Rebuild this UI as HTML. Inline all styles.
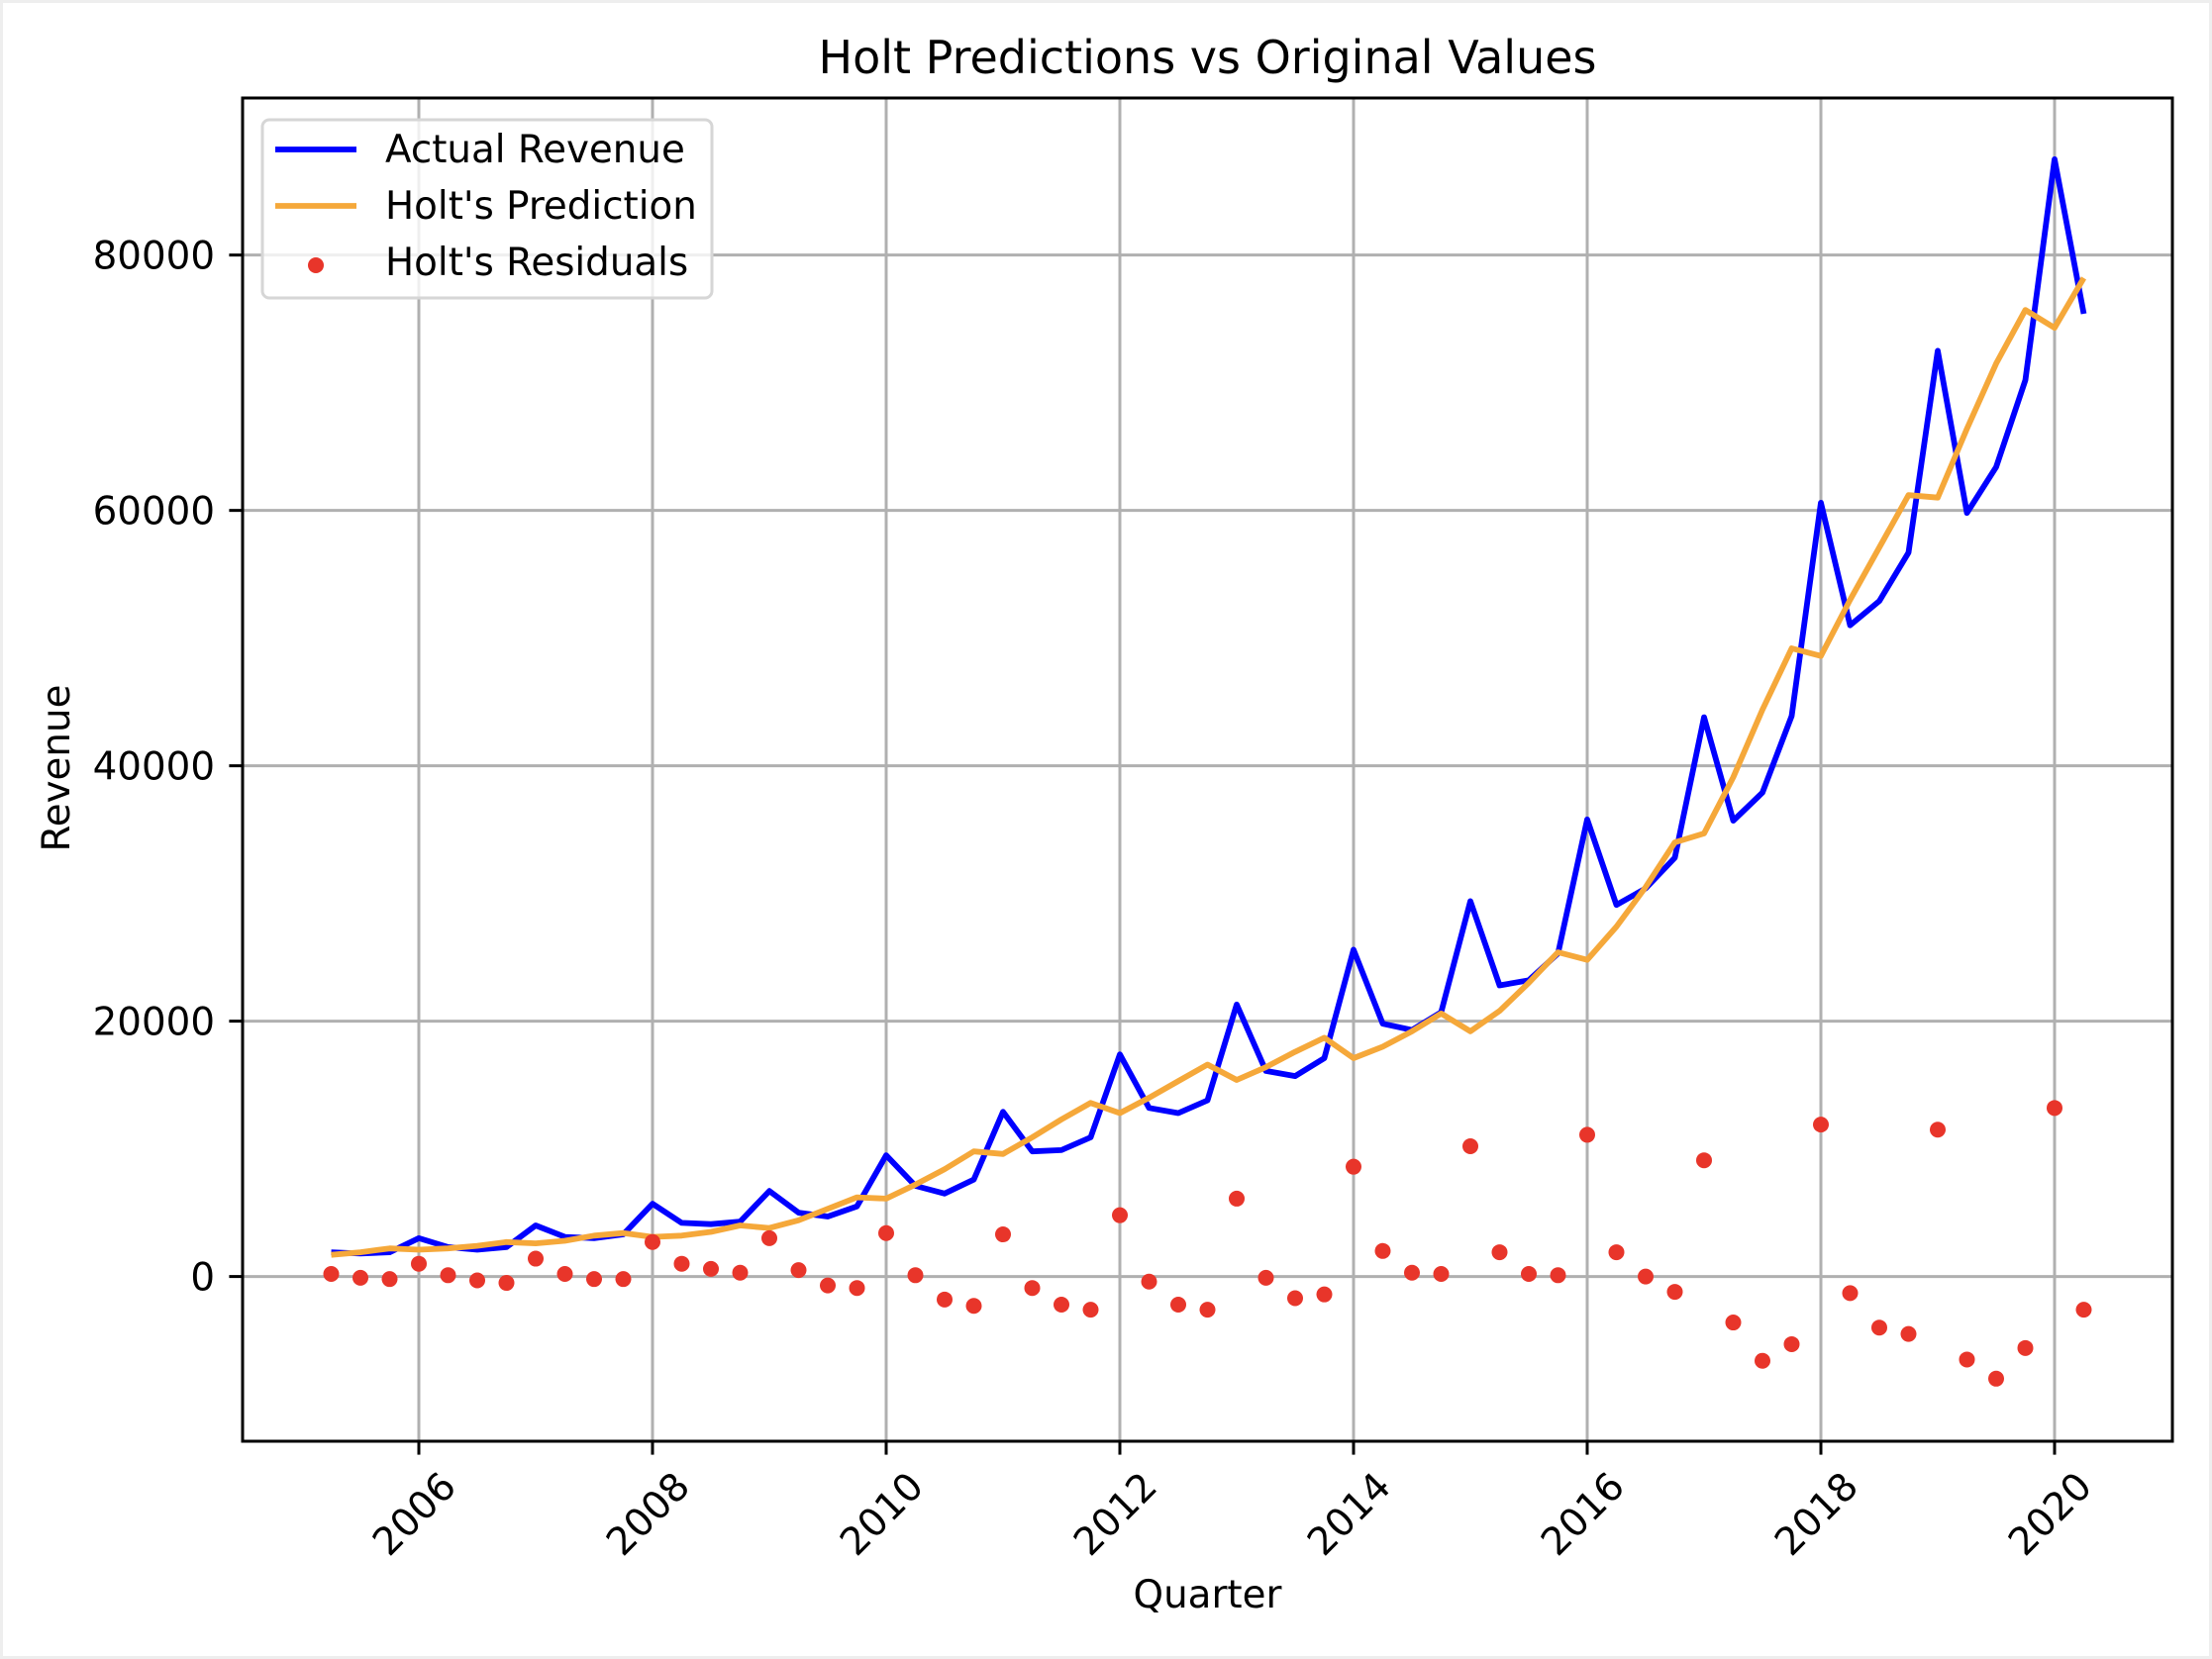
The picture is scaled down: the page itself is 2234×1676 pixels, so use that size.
<!DOCTYPE html>
<html><head><meta charset="utf-8"><style>
html,body{margin:0;padding:0;background:#fff}
svg{display:block}
text{font-family:"DejaVu Sans","Liberation Sans",sans-serif;fill:#000}
</style></head><body>
<svg id="chart" width="2234" height="1676" viewBox="0 0 2234 1676" xmlns="http://www.w3.org/2000/svg">
<rect x="0" y="0" width="2234" height="1676" fill="#fff" stroke="#eeeeee" stroke-width="6"/>
<g id="grid"></g>
<g id="series"></g>
<rect x="245" y="99" width="1949" height="1357" fill="none" stroke="#000" stroke-width="3"/>
<g id="ticks"></g>
<text x="1219.5" y="74" font-size="46" text-anchor="middle">Holt Predictions vs Original Values</text>
<text x="1219.5" y="1624" font-size="38.8" text-anchor="middle">Quarter</text>
<text x="0" y="0" font-size="38.8" text-anchor="middle" transform="translate(70,776) rotate(-90)">Revenue</text>
<g>
<rect x="265" y="121" width="454" height="180" rx="7" fill="#fff" fill-opacity="0.8" stroke="#d6d6d6" stroke-width="3"/>
<line x1="278" y1="151" x2="360" y2="151" stroke="#0000ff" stroke-width="5.8"/>
<text x="389" y="164" font-size="38.8">Actual Revenue</text>
<line x1="278" y1="208" x2="360" y2="208" stroke="#f5a83a" stroke-width="5.8"/>
<text x="389" y="221" font-size="38.8">Holt's Prediction</text>
<circle cx="319" cy="268" r="8" fill="#e8352a"/>
<text x="389" y="278" font-size="38.8">Holt's Residuals</text>
</g>
</svg>
<script>
const startYear = 2005.25;
const actual = [1900,1800,1900,3000,2300,2100,2300,4000,3100,3000,3300,5700,4200,4100,4300,6700,5000,4700,5500,9500,7100,6500,7600,12900,9800,9900,10900,17400,13200,12800,13800,21300,16100,15700,17100,25600,19800,19300,20700,29400,22800,23200,25300,35800,29100,30400,32800,43800,35700,37900,43900,60600,51000,52900,56700,72500,59800,63400,70200,87500,75400];
const prediction = [1700,1900,2200,2100,2200,2400,2700,2600,2800,3200,3400,3100,3200,3500,4000,3800,4400,5300,6200,6100,7200,8400,9800,9600,10900,12300,13600,12800,14000,15300,16600,15400,16400,17600,18700,17100,18000,19200,20600,19200,20800,23000,25400,24800,27400,30500,34000,34700,39100,44400,49200,48600,53000,57100,61200,61000,66400,71500,75700,74300,78200];
const residuals = [200,-100,-200,1000,100,-300,-500,1400,200,-200,-200,2700,1000,600,300,3000,500,-700,-900,3400,100,-1800,-2300,3300,-900,-2200,-2600,4800,-400,-2200,-2600,6100,-100,-1700,-1400,8600,2000,300,200,10200,1900,200,100,11100,1900,0,-1200,9100,-3600,-6600,-5300,11900,-1300,-4000,-4500,11500,-6500,-8000,-5600,13200,-2600];
const xTicks = [2006,2008,2010,2012,2014,2016,2018,2020];
const yTicks = [0,20000,40000,60000,80000];

const NS = 'http://www.w3.org/2000/svg';
const L=245,R=2194,T=99,B=1456;
const xMin=2004.4915, xMax=2021.0085, yMin=-12900, yMax=92300;
function xs(v){return L+(v-xMin)/(xMax-xMin)*(R-L);}
function ys(v){return B-(v-yMin)/(yMax-yMin)*(B-T);}
function mk(tag,attrs,parent){const e=document.createElementNS(NS,tag);for(const k in attrs)e.setAttribute(k,attrs[k]);parent.appendChild(e);return e;}
const grid=document.getElementById('grid'), ticks=document.getElementById('ticks'), series=document.getElementById('series');

xTicks.forEach(t=>{
  const x=xs(t);
  const g=mk('line',{x1:x,y1:T,x2:x,y2:B,stroke:'#b0b0b0','stroke-width':3},grid);
  
  
  const tk=mk('line',{x1:x,y1:B,x2:x,y2:B+13.6,stroke:'#000','stroke-width':3},ticks);
  
  
  const tx=mk('text',{x:0,y:0,'font-size':38.8,'text-anchor':'middle','dominant-baseline':'central',transform:`translate(${x-4},1530) rotate(-45)`},ticks);
  tx.textContent=t;
  
  
});
yTicks.forEach(t=>{
  const y=ys(t);
  const g=mk('line',{x1:L,y1:y,x2:R,y2:y,stroke:'#b0b0b0','stroke-width':3},grid);
  
  
  const tk=mk('line',{x1:L-13.6,y1:y,x2:L,y2:y,stroke:'#000','stroke-width':3},ticks);
  
  
  const tx=mk('text',{x:217,y:y+14,'font-size':38.8,'text-anchor':'end'},ticks);
  tx.textContent=t;
  
  
});
function pts(arr){return arr.map((v,i)=>xs(startYear+i*0.25).toFixed(1)+','+ys(v).toFixed(1)).join(' ');}
const la=mk('polyline',{points:pts(actual),fill:'none',stroke:'#0000ff','stroke-width':5.8,'stroke-linejoin':'round'},series);


const lp=mk('polyline',{points:pts(prediction),fill:'none',stroke:'#f5a83a','stroke-width':5.8,'stroke-linejoin':'round'},series);


residuals.forEach((v,i)=>{
  const c=mk('circle',{cx:xs(startYear+i*0.25),cy:ys(v),r:8,fill:'#e8352a'},series);
  
  
});
</script>
</body></html>
